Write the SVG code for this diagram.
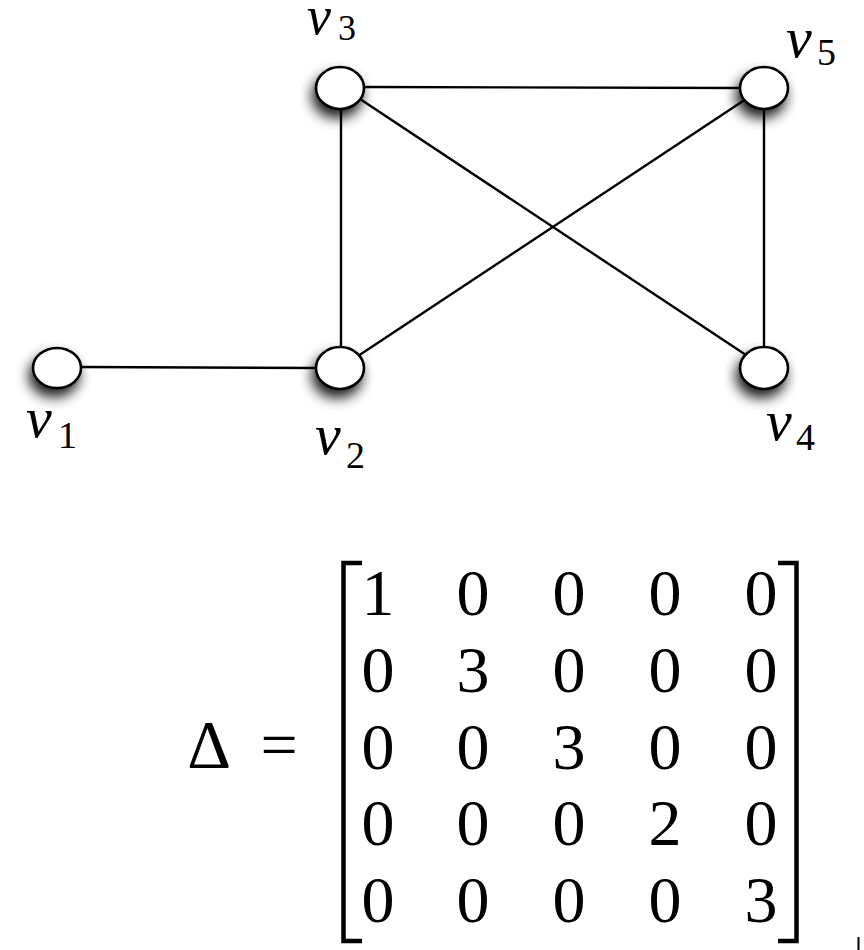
<svg xmlns="http://www.w3.org/2000/svg" width="864" height="950" viewBox="0 0 864 950">
  <defs>
    <filter id="shadow" x="-60%" y="-60%" width="220%" height="240%">
      <feGaussianBlur in="SourceAlpha" stdDeviation="6.5"/>
      <feOffset dx="-3" dy="8" result="b"/>
      <feComponentTransfer><feFuncA type="linear" slope="0.9"/></feComponentTransfer>
      <feMerge><feMergeNode/><feMergeNode in="SourceGraphic"/></feMerge>
    </filter>
  </defs>
  <style>
    .node { fill: #ffffff; stroke: #000000; stroke-width: 2.6; }
    .edge { stroke: #000000; stroke-width: 2.4; fill: none; }
    .br { stroke: #000; stroke-width: 4.5; fill: none; }
  </style>
  <rect width="864" height="950" fill="#ffffff"/>
  <g id="connectors">
    <line class="edge" x1="80" y1="367" x2="316" y2="368"/>
    <line class="edge" x1="341" y1="110" x2="341" y2="346"/>
    <line class="edge" x1="364" y1="87" x2="740" y2="88"/>
    <line class="edge" x1="360" y1="99" x2="746" y2="355"/>
    <line class="edge" x1="358" y1="356" x2="746" y2="99"/>
    <line class="edge" x1="764" y1="110" x2="764" y2="346"/>
  </g>
  <g font-family="'Liberation Serif', 'DejaVu Serif', serif" fill="#000">
    <g id="v1">
      <ellipse class="node" cx="57" cy="368" rx="24" ry="20" filter="url(#shadow)"/>
      <text x="26" y="437" font-size="58" font-style="italic">v</text><text x="58" y="448" font-size="38">1</text>
    </g>
    <g id="v2">
      <ellipse class="node" cx="340" cy="368" rx="24" ry="21" filter="url(#shadow)"/>
      <text x="315" y="454" font-size="58" font-style="italic">v</text><text x="346" y="468" font-size="38">2</text>
    </g>
    <g id="v3">
      <ellipse class="node" cx="340" cy="88" rx="24" ry="21" filter="url(#shadow)"/>
      <text x="307" y="34" font-size="54" font-style="italic">v</text><text x="338" y="40" font-size="36">3</text>
    </g>
    <g id="v4">
      <ellipse class="node" cx="764" cy="368" rx="24" ry="21" filter="url(#shadow)"/>
      <text x="766" y="440" font-size="58" font-style="italic">v</text><text x="796" y="450" font-size="38">4</text>
    </g>
    <g id="v5">
      <ellipse class="node" cx="764" cy="88" rx="24" ry="21" filter="url(#shadow)"/>
      <text x="786" y="57" font-size="58" font-style="italic">v</text><text x="817" y="65" font-size="38">5</text>
    </g>
    <g id="matrix" font-size="66" text-anchor="middle">
      <text x="209" y="767" font-size="68">Δ</text>
      <text x="279" y="767">=</text>
      <path class="br" d="M362,563 L343.5,563 L343.5,941 L362,941"/>
      <path class="br" d="M778,563 L796.5,563 L796.5,941 L778,941"/>
      <text x="378" y="615">1</text><text x="473" y="615">0</text><text x="569" y="615">0</text><text x="665" y="615">0</text><text x="761" y="615">0</text>
      <text x="378" y="692">0</text><text x="473" y="692">3</text><text x="569" y="692">0</text><text x="665" y="692">0</text><text x="761" y="692">0</text>
      <text x="378" y="769">0</text><text x="473" y="769">0</text><text x="569" y="769">3</text><text x="665" y="769">0</text><text x="761" y="769">0</text>
      <text x="378" y="845">0</text><text x="473" y="845">0</text><text x="569" y="845">0</text><text x="665" y="845">2</text><text x="761" y="845">0</text>
      <text x="378" y="922">0</text><text x="473" y="922">0</text><text x="569" y="922">0</text><text x="665" y="922">0</text><text x="761" y="922">3</text>
      <line x1="858.5" y1="937" x2="858.5" y2="950" stroke="#000" stroke-width="2"/>
    </g>
  </g>
</svg>
